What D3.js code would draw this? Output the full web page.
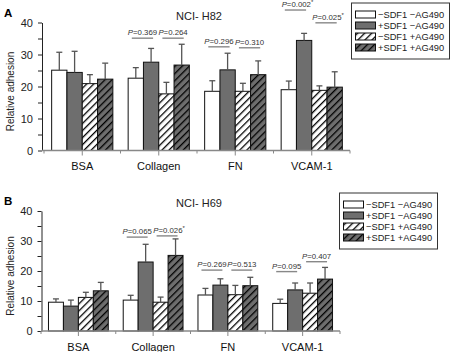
<!DOCTYPE html>
<html>
<head>
<meta charset="utf-8">
<script src="https://cdn.jsdelivr.net/npm/d3@7"></script>
<style>
  body { margin: 0; background: #fff; }
  text { font-family: "Liberation Sans", Arial, sans-serif; }
</style>
</head>
<body>
<div id="chart"></div>
<script>
const categories = ["BSA", "Collagen", "FN", "VCAM-1"];
const groups = ["\u2212SDF1 \u2212AG490", "+SDF1 \u2212AG490", "\u2212SDF1 +AG490", "+SDF1 +AG490"];

// NCI-H82 (panel A): means and error (SD) per group
const h82Ctrl = [25.1, 22.6, 18.5, 19.0];
const h82Sdf = [24.4, 27.6, 25.2, 34.4];
const h82Ag = [20.9, 17.7, 18.5, 18.8];
const h82SdfAg = [22.3, 26.7, 23.7, 19.8];
const h82CtrlErr = [5.6, 3.3, 3.3, 2.7];
const h82SdfErr = [6.6, 4.3, 5.2, 2.2];
const h82AgErr = [2.8, 3.6, 2.5, 1.4];
const h82SdfAgErr = [5.0, 6.5, 4.3, 4.8];
// p values for (group1 vs group2) and (group3 vs group4), with bracket level in adhesion units
const h82P = [[null, null], ["0.369", "0.264"], ["0.296", "0.310"], ["0.002*", "0.025*"]];
const h82PLevel = [[0, 0], [35.1, 35.1], [32.4, 32.1], [43.9, 39.9]];

// NCI-H69 (panel B)
const h69Ctrl = [9.6, 10.3, 12.0, 9.2];
const h69Sdf = [8.3, 23.0, 15.3, 13.7];
const h69Ag = [11.2, 9.6, 12.1, 12.6];
const h69SdfAg = [13.4, 25.2, 15.1, 17.3];
const h69CtrlErr = [1.1, 1.6, 2.2, 1.4];
const h69SdfErr = [2.0, 5.9, 2.1, 2.3];
const h69AgErr = [1.7, 1.7, 3.1, 3.4];
const h69SdfAgErr = [2.8, 5.5, 2.8, 3.9];
const h69P = [[null, null], ["0.065", "0.026*"], ["0.269", "0.513"], ["0.095", "0.407"]];
const h69PLevel = [[0, 0], [31.3, 31.7], [20.3, 20.3], [19.8, 23.1]];

const yTicks = [0, 5, 10, 15, 20, 25, 30, 35, 40];

const width = 451, height = 352;
const svg = d3.select("#chart").append("svg")
    .attr("width", width).attr("height", height);

const darkGrey = "#6e6e6e";

// hatch patterns
const defs = svg.append("defs");
[["hatchLight", "#fff"], ["hatchDark", darkGrey]].forEach(([id, bg]) => {
    const p = defs.append("pattern")
        .attr("id", id)
        .attr("patternUnits", "userSpaceOnUse")
        .attr("width", 5).attr("height", 5)
        .attr("patternTransform", "rotate(45)");
    p.append("rect").attr("width", 5).attr("height", 5).attr("fill", bg);
    p.append("line")
        .attr("x1", 0).attr("y1", 0).attr("x2", 0).attr("y2", 5)
        .attr("stroke", "#000").attr("stroke-width", 2.6);
});

const fills = ["#fff", darkGrey, "url(#hatchLight)", "url(#hatchDark)"];

function drawPanel(cfg) {
    const g = svg.append("g");

    const x = d3.scaleBand().domain(categories).range([cfg.left, cfg.right]);
    const xi = d3.scaleBand().domain(d3.range(groups.length))
        .range([0, x.bandwidth()])
        .paddingInner(0).paddingOuter(0.5);
    const y = d3.scaleLinear().domain([0, 40]).range([cfg.bottom, cfg.top]);

    // panel letter + title
    g.append("text")
        .attr("x", 4).attr("y", cfg.top - 6)
        .style("font-size", "11.5px").style("font-weight", 700)
        .text(cfg.letter);
    g.append("text")
        .attr("x", 199).attr("y", cfg.titleY)
        .attr("text-anchor", "middle")
        .style("font-size", "11px").attr("fill", "#222")
        .text(cfg.title);

    // y axis
    const yAxis = g.append("g")
        .attr("transform", `translate(${cfg.axisX},0)`)
        .call(d3.axisLeft(y).tickValues(yTicks)
            .tickFormat(d => d % 10 === 0 ? d : "")
            .tickSize(4).tickSizeOuter(0).tickPadding(5));
    yAxis.selectAll("text").style("font-size", "11px").attr("fill", "#222")
        .style("font-family", "'Liberation Sans', Arial, sans-serif");
    yAxis.selectAll("line, path").attr("stroke", "#222");

    g.append("text")
        .attr("transform", `translate(14,${(cfg.top + cfg.bottom) / 2 + 5}) rotate(-90)`)
        .attr("text-anchor", "middle")
        .style("font-size", "10px").attr("fill", "#222")
        .text("Relative adhesion");

    // bars
    cfg.means.forEach((series, s) => {
        g.append("g").selectAll("rect")
            .data(series)
            .join("rect")
            .attr("x", (d, i) => x(categories[i]) + xi(s))
            .attr("y", d => y(d))
            .attr("width", xi.bandwidth())
            .attr("height", d => y(0) - y(d))
            .attr("fill", fills[s])
            .attr("stroke", "#111")
            .attr("stroke-width", 1);
    });

    // error bars
    cfg.means.forEach((series, s) => {
        const eg = g.append("g").attr("stroke", "#555").attr("stroke-width", 1.3);
        series.forEach((v, i) => {
            const cx = x(categories[i]) + xi(s) + xi.bandwidth() / 2;
            const top = y(v + cfg.errs[s][i]);
            eg.append("line").attr("x1", cx).attr("x2", cx).attr("y1", y(v)).attr("y2", top);
            eg.append("line").attr("x1", cx - 3).attr("x2", cx + 3).attr("y1", top).attr("y2", top);
        });
    });

    // x axis (grey baseline)
    const xAxis = g.append("g").attr("stroke", "#888").attr("stroke-width", 1.5);
    xAxis.append("line")
        .attr("x1", cfg.axisX).attr("x2", cfg.right)
        .attr("y1", y(0)).attr("y2", y(0));
    const bounds = categories.map(c => x(c)).concat([cfg.right]);
    xAxis.selectAll(".bnd").data(bounds).join("line")
        .attr("x1", d => d).attr("x2", d => d)
        .attr("y1", y(0)).attr("y2", y(0) + 3)
        .attr("stroke-width", 1);
    xAxis.selectAll(".ctr").data(categories).join("line")
        .attr("x1", d => x(d) + x.bandwidth() / 2).attr("x2", d => x(d) + x.bandwidth() / 2)
        .attr("y1", y(0)).attr("y2", y(0) + 5)
        .attr("stroke-width", 1);

    g.append("g").selectAll("text")
        .data(categories)
        .join("text")
        .attr("x", d => x(d) + x.bandwidth() / 2)
        .attr("y", y(0) + 19.5)
        .attr("text-anchor", "middle")
        .style("font-size", "11px").attr("fill", "#111")
        .text(d => d);

    // p-value annotations
    cfg.pvals.forEach((pair, i) => {
        pair.forEach((p, k) => {
            if (!p) return;
            const s1 = k * 2, s2 = k * 2 + 1;
            const c1 = x(categories[i]) + xi(s1) + xi.bandwidth() / 2;
            const c2 = x(categories[i]) + xi(s2) + xi.bandwidth() / 2;
            const ly = y(cfg.plevels[i][k]);
            const x1 = c1 - 4, x2 = c2 + 2;
            g.append("line")
                .attr("x1", x1).attr("x2", x2).attr("y1", ly).attr("y2", ly)
                .attr("stroke", "#888").attr("stroke-width", 1.4);
            const star = p.endsWith("*");
            const t = g.append("text")
                .attr("x", (x1 + x2) / 2 + (star ? 2 : 0))
                .attr("y", ly - 3)
                .attr("text-anchor", "middle")
                .style("font-size", "7.8px").attr("fill", "#333");
            t.append("tspan").style("font-style", "italic").text("P");
            t.append("tspan").text("=" + p.replace("*", ""));
            if (star) t.append("tspan").attr("dy", -3).style("font-size", "6px").text("*");
        });
    });

    // legend
    const lg = g.append("g").attr("transform", `translate(${cfg.legendX},${cfg.legendY})`);
    lg.append("rect")
        .attr("width", 98).attr("height", 56)
        .attr("fill", "#fff").attr("stroke", "#333").attr("stroke-width", 1);
    groups.forEach((name, s) => {
        const ry = 11.5 + s * 11;
        lg.append("rect")
            .attr("x", 4).attr("y", ry - 3.5)
            .attr("width", 20).attr("height", 7)
            .attr("fill", fills[s]).attr("stroke", "#111").attr("stroke-width", 1);
        lg.append("text")
            .attr("x", 26.5).attr("y", ry + 3.5)
            .style("font-size", "9.3px").attr("fill", "#222")
            .text(name);
    });
}

drawPanel({
    letter: "A", title: "NCI- H82", titleY: 19.5,
    left: 44, right: 350, axisX: 42, top: 22.5, bottom: 150.5,
    means: [h82Ctrl, h82Sdf, h82Ag, h82SdfAg],
    errs: [h82CtrlErr, h82SdfErr, h82AgErr, h82SdfAgErr],
    pvals: h82P, plevels: h82PLevel,
    legendX: 351.5, legendY: 3
});

drawPanel({
    letter: "B", title: "NCI- H69", titleY: 207,
    left: 41, right: 340, axisX: 41.5, top: 211, bottom: 331,
    means: [h69Ctrl, h69Sdf, h69Ag, h69SdfAg],
    errs: [h69CtrlErr, h69SdfErr, h69AgErr, h69SdfAgErr],
    pvals: h69P, plevels: h69PLevel,
    legendX: 339.5, legendY: 193
});
</script>
</body>
</html>
